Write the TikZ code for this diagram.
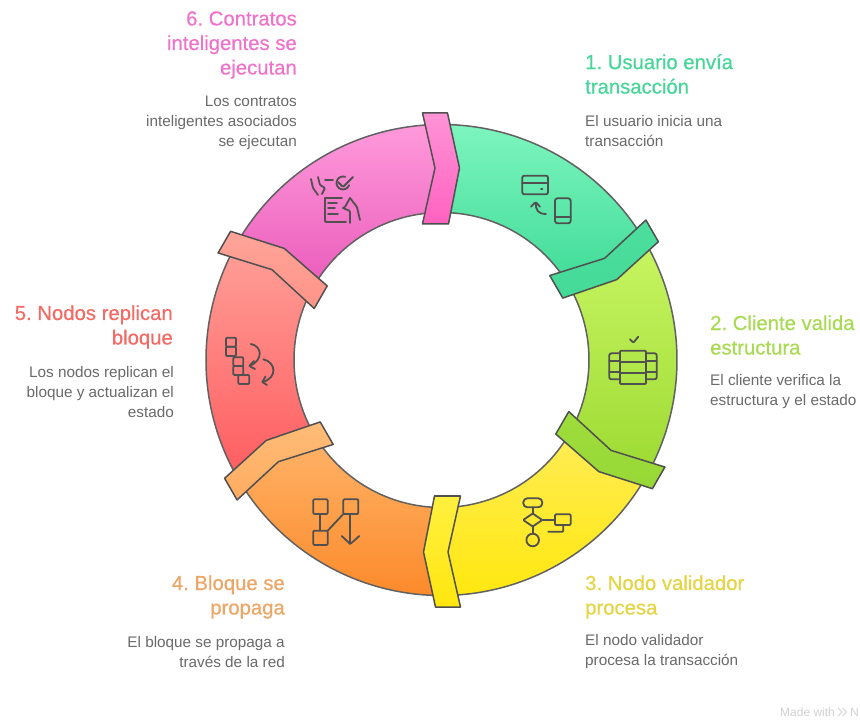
\documentclass[tikz,border=0pt]{standalone}
\usepackage{fontspec}
\setmainfont{Liberation Sans}
\newfontfamily\headfont[FakeBold=0.4]{Liberation Sans}
\definecolor{ink}{HTML}{505050}
\definecolor{body}{HTML}{6A6A6A}
\definecolor{tgreen}{HTML}{45D698}
\definecolor{tlime}{HTML}{A8DA52}
\definecolor{tyellow}{HTML}{E5D545}
\definecolor{torange}{HTML}{ECA665}
\definecolor{tred}{HTML}{F46A64}
\definecolor{tpink}{HTML}{F072CA}
\tikzset{
  ringedge/.style={draw=ink!90,line width=1.5pt},
  chev/.style={draw=ink,line width=1.5pt,line join=round},
  icon/.style={draw=ink,line width=1.8pt,line cap=round,line join=round,fill=none,rounded corners=1pt},
  ttl/.style={font=\headfont\frenchspacing\fontsize{20.3}{24.5}\selectfont,inner sep=0pt},
  dsc/.style={font=\frenchspacing\fontsize{15.3}{20}\selectfont,text=body,inner sep=0pt},
  mark text/.style={font=\fontsize{12}{14}\selectfont,text=black!18,anchor=west,inner sep=0pt},
}
% #1 start angle #2 end angle #3 top colour #4 bottom colour
\newcommand{\ringseg}[4]{%
  \definecolor{segtop}{HTML}{#3}\definecolor{segbot}{HTML}{#4}%
  \shade[top color=segtop,bottom color=segbot]
    (#1:235.5pt) arc[start angle=#1,end angle=#2,radius=235.5pt]
    -- (#2:147.5pt) arc[start angle=#2,end angle=#1,radius=147.5pt] -- cycle;
  \draw[ringedge] (#1:235.5pt) arc[start angle=#1,end angle=#2,radius=235.5pt];
  \draw[ringedge] (#2:147.5pt) arc[start angle=#2,end angle=#1,radius=147.5pt];
}
% #1 rotation #2 top colour #3 bottom colour
\newcommand{\chevron}[3]{%
  \definecolor{chtop}{HTML}{#2}\definecolor{chbot}{HTML}{#3}%
  \path[chev,rotate=#1,top color=chtop,bottom color=chbot]
    (-19,247) -- (6,247) -- (18,192) -- (7,136) -- (-19,136) -- (-6.5,192) -- cycle;
}
\begin{document}
\begin{tikzpicture}[x=1pt,y=1pt]
\useasboundingbox[fill=white] (-441.5,-360) rectangle (418.5,360);

\ringseg{90}{30}{7DF5BE}{3FDB97}
\ringseg{30}{-30}{C8F562}{9CDA32}
\ringseg{-30}{-90}{FFEC55}{FFE80F}
\ringseg{-90}{-150}{FFB46A}{FC8A2A}
\ringseg{-150}{-210}{FFA098}{FF5C60}
\ringseg{150}{90}{FF9ADB}{EA5CBB}

\chevron{0}{FF93D6}{FF62C0}
\chevron{-60}{4CDE9E}{45DA97}
\chevron{-120}{9FDC3C}{97D936}
\chevron{180}{FFF040}{FFE60F}
\chevron{120}{FFBC78}{FFAC60}
\chevron{60}{FFA499}{FF9488}

\begin{scope}[shift={(-441.5,360)},y=-1pt]
% icon 1
\draw[icon,rounded corners=2pt] (522.3,175.7) rectangle (548,194.3);
\draw[icon] (522.3,183.3) -- (548,183.3);
\draw[icon] (541,189) -- (542.5,189);
\draw[icon,rounded corners=2.5pt] (555,198.3) rectangle (570.7,223.3);
\draw[icon] (555,216.7) -- (570.7,216.7);
\draw[icon] (546,214) .. controls (538,214) and (535.7,210) .. (535.7,203);
\draw[icon] (531,206.7) -- (535.7,202) -- (540,206.7);
% icon 2
\draw[icon] (620,350.7) rectangle (646,384);
\draw[icon] (620,361.7) -- (646,361.7) (620,373.3) -- (646,373.3);
\draw[icon,rounded corners=2pt] (620,353.3) -- (609.3,353.3) -- (609.3,379.3) -- (620,379.3);
\draw[icon] (609.3,360.7) -- (620,360.7) (609.3,371.7) -- (620,371.7);
\draw[icon,rounded corners=2pt] (646,353.3) -- (656.7,353.3) -- (656.7,379.3) -- (646,379.3);
\draw[icon] (646,360.7) -- (656.7,360.7) (646,371.7) -- (656.7,371.7);
\draw[icon] (630,339.3) -- (633.3,342.7) -- (638.3,336.7);
% icon 3
\draw[icon,rounded corners=4pt] (523.3,498.3) rectangle (542.3,507.3);
\draw[icon] (532.7,507.3) -- (532.7,513.5);
\draw[icon] (523.2,520) -- (532.7,513.5) -- (542.2,520) -- (532.7,526.5) -- cycle;
\draw[icon] (532.7,526.5) -- (532.7,533.7);
\draw[icon] (532.7,540) circle[radius=6.3pt];
\draw[icon] (542.2,520) -- (555,520);
\draw[icon] (555,514.3) rectangle (570.7,525);
\draw[icon] (563.3,525) -- (563.3,531.7) -- (548.3,531.7);
% icon 4
\draw[icon] (313.3,499.3) rectangle (327.7,514);
\draw[icon] (343.3,499.3) rectangle (358.3,514);
\draw[icon] (313.3,530.7) rectangle (327.7,545);
\draw[icon] (320.3,514) -- (320.3,530.7);
\draw[icon] (327.7,530.7) -- (343.3,514);
\draw[icon] (350.3,514) -- (350.3,544);
\draw[icon] (341.7,536) -- (350.3,544) -- (359.3,536);
% icon 5
\draw[icon] (226,337.7) rectangle (236,346.7);
\draw[icon] (226,346.7) rectangle (236,356);
\draw[icon] (233.3,357.3) rectangle (243.3,366);
\draw[icon] (233.3,366) rectangle (243.3,375);
\draw[icon] (238.3,375) rectangle (249.3,384);
\draw[icon] (250.7,344) .. controls (262,346) and (264,360) .. (249.3,366);
\draw[icon] (254,361) -- (249.3,366) -- (255,369);
\draw[icon] (263.3,359.3) .. controls (276,362) and (278,378) .. (262.3,382);
\draw[icon] (265.5,376.5) -- (262.3,382) -- (267,385);
% icon 6
\draw[icon] (325,198) -- (325,222) -- (346,222);
\draw[icon] (325,198) -- (342,198);
\draw[icon] (328,203) -- (337,203) (328,208) -- (335,208) (328,214) -- (338,214);
\draw[icon] (349.1,185.2) arc[start angle=-20,end angle=-290,radius=6.5pt];
\draw[icon] (338,182) -- (343,187) -- (353,177);
\draw[icon] (325,180) -- (333,180);
\draw[icon] (311,179) -- (313,188) -- (318,195);
\draw[icon] (318,177) -- (320,185) -- (325,188) -- (322,194);
\draw[icon] (350,198) -- (357,207) -- (360,220);
\draw[icon] (350,198) -- (345,207) -- (343,208);
\draw[icon] (343,208) -- (350,211) -- (350,223);

% titles
\node[ttl,text=tgreen,align=left,anchor=west] (t1) at (585,74) {1. Usuario envía\\transacción};
\node[dsc,align=left,anchor=west] (d1) at (585,131) {El usuario inicia una\\transacción};
\node[ttl,text=tlime,align=left,anchor=west] (t2) at (710,335) {2. Cliente valida\\estructura};
\node[dsc,align=left,anchor=west] (d2) at (710,391.5) {El cliente verifica la\\estructura y el estado};
\node[ttl,text=tyellow,align=left,anchor=west] (t3) at (585,597) {3. Nodo validador\\procesa};
\node[dsc,align=left,anchor=west] (d3) at (585,652) {El nodo validador\\procesa la transacción};
\node[ttl,text=torange,align=right,anchor=east] (t4) at (285,597) {4. Bloque se\\propaga};
\node[dsc,align=right,anchor=east] (d4) at (285,652.5) {El bloque se propaga a\\través de la red};
\node[ttl,text=tred,align=right,anchor=east] (t5) at (173,327) {5. Nodos replican\\bloque};
\node[dsc,align=right,anchor=east] (d5) at (174,392) {Los nodos replican el\\bloque y actualizan el\\estado};
\node[ttl,text=tpink,align=right,anchor=east] (t6) at (297,45) {6. Contratos\\inteligentes se\\ejecutan};
\node[dsc,align=right,anchor=east] (d6) at (297,122.5) {Los contratos\\inteligentes asociados\\se ejecutan};
\node[mark text] (wm) at (780,712) {Made with};
\draw[black!18,line width=1pt] (838,708) -- (842,712) -- (838,716) (842.5,708) -- (846.5,712) -- (842.5,716);
\node[mark text] (wn) at (850,712) {N};
\end{scope}
\end{tikzpicture}
\end{document}
